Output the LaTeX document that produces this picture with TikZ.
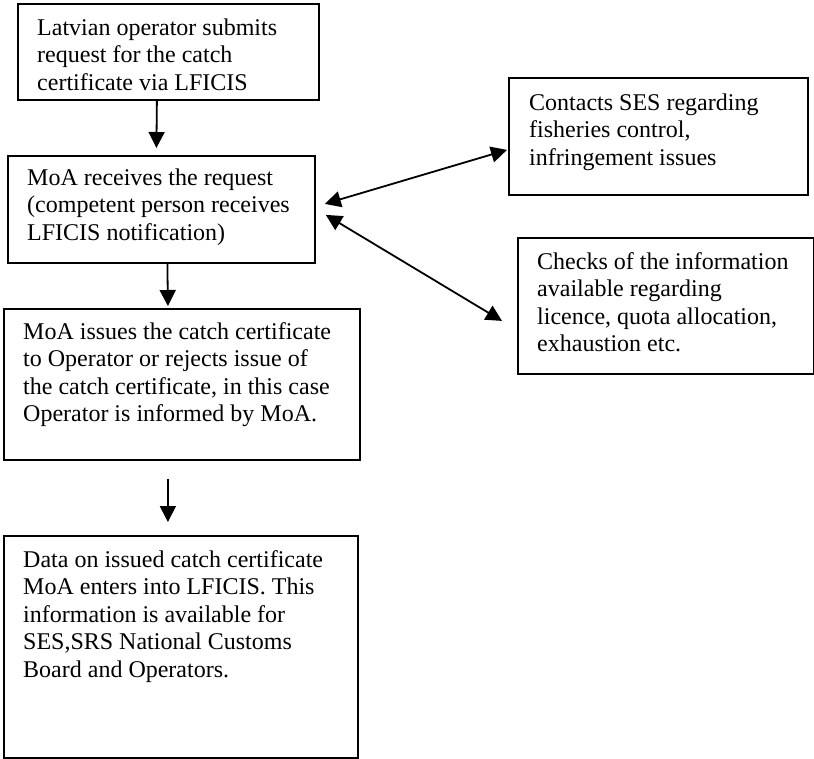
\documentclass[tikz,border=0pt]{standalone}
\usepackage{fontspec}
\setmainfont{Liberation Serif}
\usetikzlibrary{arrows.meta}
\newcommand\boxtext[1]{\parbox[t]{360pt}{\fontsize{24}{27.5}\selectfont\raggedright #1\par}}
\begin{document}
\begin{tikzpicture}[x=1pt,y=1pt,
  box/.style={draw=black, line width=1.8pt, rectangle, inner sep=0pt, anchor=north west},
  txt/.style={anchor=base west, inner sep=0pt},
  tip/.tip={Triangle[length=16pt,width=16pt]},
  arr/.style={line width=1.8pt, -tip},
  darr/.style={line width=1.8pt, tip-tip}]
\useasboundingbox (0,0) rectangle (814,-758);
\fill[white] (0,0) rectangle (814,-758);
% boxes
\node[box, minimum width=301pt, minimum height=96pt] (b1) at (17,-3) {};
\node[box, minimum width=307pt, minimum height=107pt] (b2) at (7,-155) {};
\node[box, minimum width=356pt, minimum height=151pt] (b3) at (3,-308) {};
\node[box, minimum width=354pt, minimum height=222pt] (b4) at (3,-535) {};
\node[box, minimum width=299pt, minimum height=117pt] (b5) at (508,-77) {};
\node[box, minimum width=296pt, minimum height=136pt] (b6) at (517,-237) {};
% texts
\node[txt] (t1) at (37,-35) {\boxtext{Latvian operator submits\\request for the catch\\certificate via LFICIS}};
\node[txt] (t2) at (27,-185) {\boxtext{MoA receives the request\\(competent person receives\\LFICIS notification)}};
\node[txt] (t3) at (23,-339) {\boxtext{MoA issues the catch certificate\\to Operator or rejects issue of\\the catch certificate, in this case\\Operator is informed by MoA.}};
\node[txt] (t4) at (23,-567) {\boxtext{Data on issued catch certificate\\MoA enters into LFICIS. This\\information is available for\\SES,SRS National Customs\\Board and Operators.}};
\node[txt] (t5) at (529,-110) {\boxtext{Contacts SES regarding\\fisheries control,\\infringement issues}};
\node[txt] (t6) at (537,-269) {\boxtext{Checks of the information\\available regarding\\licence, quota allocation,\\exhaustion etc.}};
% connectors
\draw[arr] ([xshift=-11.5pt]b1.south) -- ([xshift=-5pt,yshift=7pt]b2.north);
\draw[arr] ([xshift=6pt]b2.south) -- ([xshift=-14pt,yshift=2pt]b3.north);
\draw[arr] ([xshift=-14pt,yshift=-18pt]b3.south) -- ([xshift=-13pt,yshift=13pt]b4.north);
\draw[darr] ([shift={(9,5.5)}]b2.east) -- ([shift={(-1,-13.5)}]b5.west);
\draw[darr] ([shift={(10,-5.5)}]b2.east) -- ([shift={(-15,-15)}]b6.west);
\end{tikzpicture}
\end{document}
